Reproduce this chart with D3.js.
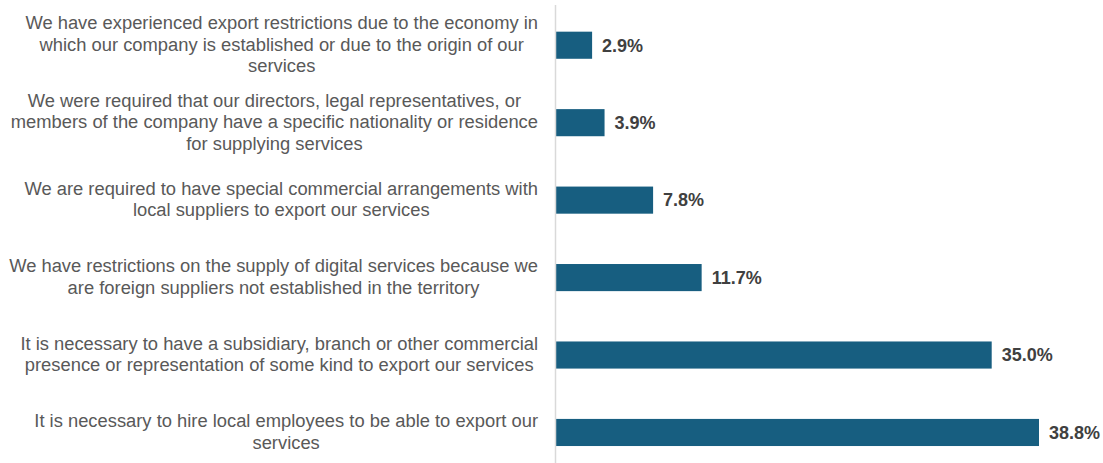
<!DOCTYPE html>
<html>
<head>
<meta charset="utf-8">
<script src="https://cdn.jsdelivr.net/npm/d3@7"></script>
<style>
  html, body { margin: 0; padding: 0; background: #ffffff; }
  svg { display: block; }
</style>
</head>
<body>
<svg id="chart" width="1103" height="463"></svg>
<script>
// Survey answers (wrapped as in the printed chart) and shares of respondents, %
const categoryLines = [
  ["We have experienced export restrictions due to the economy in",
   "which our company is established or due to the origin of our",
   "services"],
  ["We were required that our directors, legal representatives, or",
   "members of the company have a specific nationality or residence",
   "for supplying services"],
  ["We are required to have special commercial arrangements with",
   "local suppliers to export our services"],
  ["We have restrictions on the supply of digital services because we",
   "are foreign suppliers not established in the territory"],
  ["It is necessary to have a subsidiary, branch or other commercial",
   "presence or representation of some kind to export our services"],
  ["It is necessary to hire local employees to be able to export our",
   "services"]
];
const shares = [2.9, 3.9, 7.8, 11.7, 35.0, 38.8];
const valueLabels = ["2.9%", "3.9%", "7.8%", "11.7%", "35.0%", "38.8%"];

const rows = categoryLines.map((lines, i) => ({
  key: i, lines, value: shares[i], label: valueLabels[i]
}));

const svg = d3.select("#chart");
const axisX = 556;
const labelRight = 538;
const lineGap = 21.5;

const x = d3.scaleLinear().domain([0, 38.8]).range([axisX, axisX + 483]);
const y = d3.scaleBand()
  .domain(rows.map(d => d.key))
  .range([6.5, 471.2])
  .paddingInner(0.65)
  .paddingOuter(0.325);

// bars
svg.append("g").selectAll("rect")
  .data(rows)
  .join("rect")
  .attr("x", x(0))
  .attr("y", d => y(d.key))
  .attr("width", d => x(d.value) - x(0))
  .attr("height", y.bandwidth())
  .attr("fill", "#175e80");

// vertical category axis line
svg.append("line")
  .attr("x1", axisX - 0.5).attr("x2", axisX - 0.5)
  .attr("y1", 5).attr("y2", 463)
  .attr("stroke", "#d9d9d9").attr("stroke-width", 1.5);

// value labels
svg.append("g").selectAll("text")
  .data(rows)
  .join("text")
  .attr("x", d => x(d.value) + 10)
  .attr("y", d => y(d.key) + y.bandwidth() / 2)
  .attr("dy", "0.35em")
  .attr("font-family", "'Liberation Sans', Arial, sans-serif")
  .attr("font-size", 18)
  .attr("font-weight", "bold")
  .attr("fill", "#404040")
  .text(d => d.label);

// category labels: block right-aligned to the axis, lines centered in the block
const cat = svg.append("g")
  .attr("font-family", "'Liberation Sans', Arial, sans-serif")
  .attr("font-size", 18.35)
  .attr("fill", "#595959");

rows.forEach(d => {
  const cy = y(d.key) + y.bandwidth() / 2;
  const n = d.lines.length;
  const g = cat.append("g");
  const texts = d.lines.map((t, j) =>
    g.append("text")
      .attr("text-anchor", "middle")
      .attr("y", cy + (j - (n - 1) / 2) * lineGap)
      .attr("dy", "0.3em")
      .text(t)
  );
  const maxW = d3.max(texts, t => t.node().getComputedTextLength());
  texts.forEach(t => t.attr("x", labelRight - maxW / 2));
});
</script>
</body>
</html>
